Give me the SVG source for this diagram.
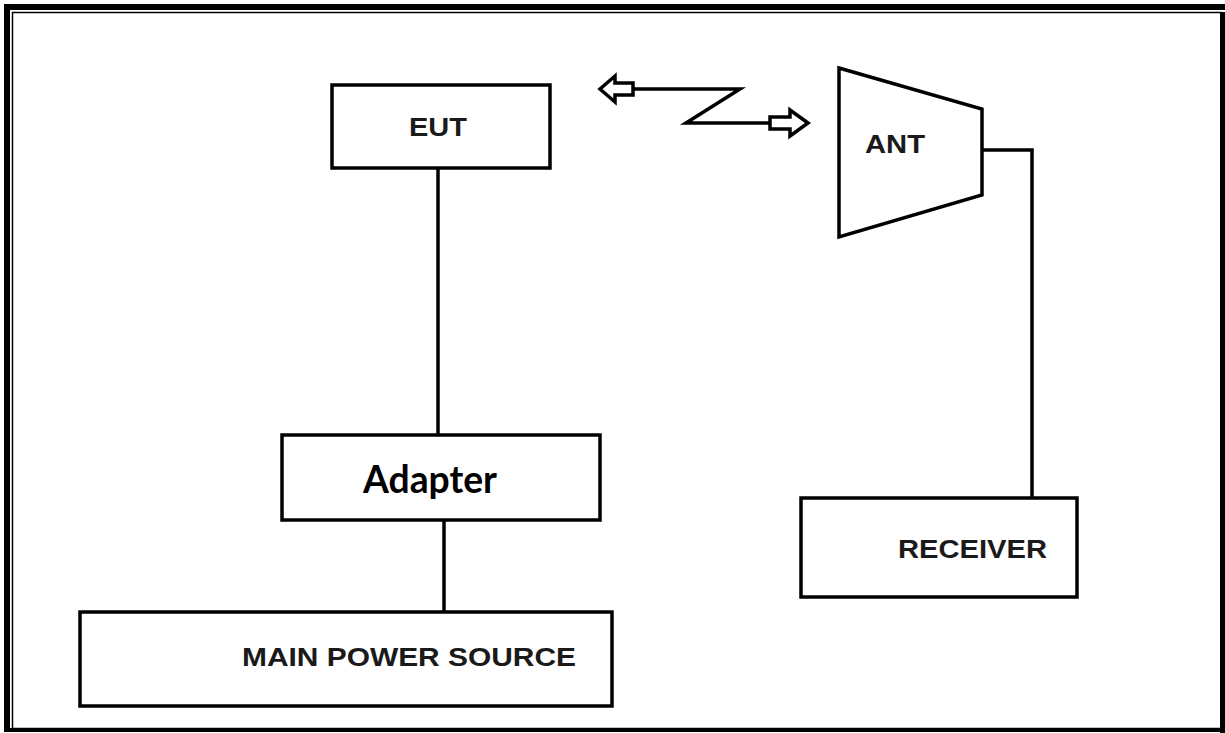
<svg xmlns="http://www.w3.org/2000/svg" width="1225" height="733" viewBox="0 0 1225 733">
<style>
.box{fill:#fff;stroke:#000;stroke-width:3.5}
.ln{fill:none;stroke:#000;stroke-width:3.5;stroke-linejoin:miter}
.lbl{font-family:"Liberation Sans",Arial,sans-serif;font-weight:bold;font-size:25px;fill:#1a1a1a}
.adp{font-family:Lato,"Open Sans",sans-serif;font-weight:bold;font-size:39px;fill:#000}
</style>
<rect x="0" y="0" width="1225" height="733" fill="#fff"/>
<g id="frame">
<rect x="4" y="4" width="1221" height="6" fill="#000"/>
<rect x="4" y="4" width="6" height="728" fill="#000"/>
<rect x="12.5" y="12.5" width="1209" height="716" fill="none" stroke="#000" stroke-width="1.5"/>
<rect x="1220" y="12" width="5" height="721" fill="#000"/>
<rect x="10" y="728" width="1215" height="4" fill="#000"/>
</g>
<g id="connectors">
<polyline class="ln" points="438,168 438,435"/>
<polyline class="ln" points="444,520 444,612"/>
<polyline class="ln" points="982,150 1032,150 1032,498"/>
<g id="wireless">
<polyline class="ln" points="633,89 740,89 686,123 770,123"/>
<polygon class="ln" points="600,89 615,76 615,83 633,83 633,95 615,95 615,102"/>
<polygon class="ln" points="808,123 790,110 790,117 770,117 770,129 790,129 790,136"/>
</g>
</g>
<g id="eut">
<rect class="box" x="332" y="85" width="218" height="83"/>
<text class="lbl" x="409" y="136" textLength="58" lengthAdjust="spacingAndGlyphs">EUT</text>
</g>
<g id="ant">
<polygon class="box" points="839,68 982,109 982,195 839,237"/>
<text class="lbl" x="865" y="153" textLength="60" lengthAdjust="spacingAndGlyphs">ANT</text>
</g>
<g id="adapter">
<rect class="box" x="282" y="435" width="318" height="85"/>
<text class="adp" x="363" y="493" textLength="134" lengthAdjust="spacingAndGlyphs">Adapter</text>
</g>
<g id="receiver">
<rect class="box" x="801" y="498" width="276" height="99"/>
<text class="lbl" x="898" y="558" textLength="149" lengthAdjust="spacingAndGlyphs">RECEIVER</text>
</g>
<g id="mainpower">
<rect class="box" x="80" y="612" width="532" height="94"/>
<text class="lbl" x="242" y="666" textLength="334" lengthAdjust="spacingAndGlyphs">MAIN POWER SOURCE</text>
</g>
</svg>
